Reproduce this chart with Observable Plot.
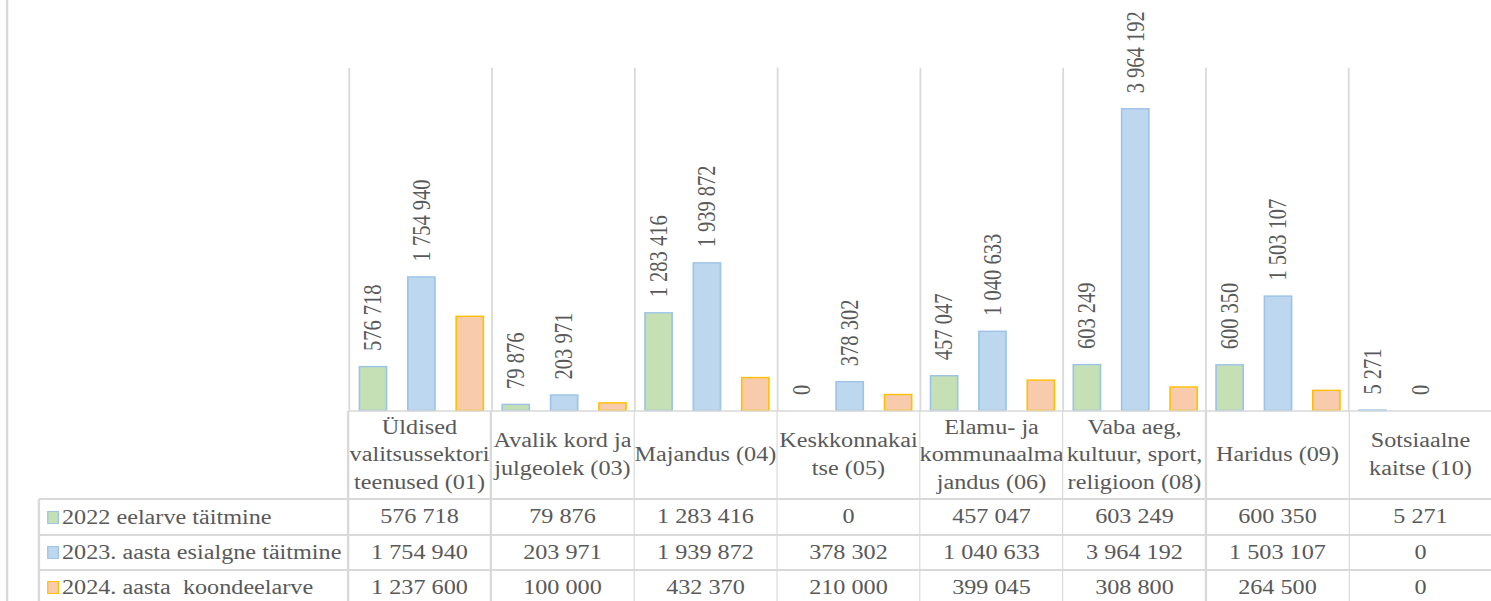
<!DOCTYPE html>
<html>
<head>
<meta charset="utf-8">
<script src="https://cdn.jsdelivr.net/npm/d3@7"></script>
<script src="https://cdn.jsdelivr.net/npm/@observablehq/plot@0.6"></script>
<style>
  html, body { margin: 0; padding: 0; background: #fff; width: 1491px; height: 601px; overflow: hidden; }
  #wrap { position: absolute; left: 0; top: 0; height: 601px; transform-origin: 0 0;
          font-family: "Liberation Serif", "Times New Roman", serif; color: #595959; }
  #wrap svg { position: absolute; left: 0; top: 0; overflow: visible; }
  .ln { position: absolute; background: #d9d9d9; }
  .cell { position: absolute; display: flex; align-items: center; justify-content: center;
          font-size: 20.5px; line-height: 27.5px; text-align: center; white-space: pre; }
  .lcell { position: absolute; display: flex; align-items: center; font-size: 20.5px; white-space: pre; }
  .key { position: absolute; box-sizing: border-box; border: 1.5px solid; }
</style>
</head>
<body>
<div id="wrap"></div>
<script>
// ---------- data ----------
const categories = [
  "Üldised valitsussektori teenused (01)",
  "Avalik kord ja julgeolek (03)",
  "Majandus (04)",
  "Keskkonnakaitse (05)",
  "Elamu- ja kommunaalmajandus (06)",
  "Vaba aeg, kultuur, sport, religioon (08)",
  "Haridus (09)",
  "Sotsiaalne kaitse (10)"
];
const categoryLabels = [
  "Üldised\nvalitsussektori\nteenused (01)",
  "Avalik kord ja\njulgeolek (03)",
  "Majandus (04)",
  "Keskkonnakai\ntse (05)",
  "Elamu- ja\nkommunaalma\njandus (06)",
  "Vaba aeg,\nkultuur, sport,\nreligioon (08)",
  "Haridus (09)",
  "Sotsiaalne\nkaitse (10)"
];
const series = ["2022 eelarve täitmine", "2023. aasta esialgne täitmine", "2024. aasta  koondeelarve"];
const values2022 = [576718, 79876, 1283416, 0, 457047, 603249, 600350, 5271];
const values2023 = [1754940, 203971, 1939872, 378302, 1040633, 3964192, 1503107, 0];
const values2024 = [1237600, 100000, 432370, 210000, 399045, 308800, 264500, 0];
const yMax = 4500000;

// ---------- styles ----------
const fills   = ["#C5E0B4", "#BDD7EE", "#F8CBAD"];
const strokes = ["#9DC3E6", "#9DC3E6", "#FFC000"];
const labelled = [true, true, false];

// ---------- layout (horizontal stretch like the original picture) ----------
const S = 1.18;
const u = v => v / S;
const plotLeft = u(348), catW = u(143), topY = 68, baseY = 410.5;
const W = plotLeft + catW * categories.length + 1;
const wrap = document.getElementById("wrap");
wrap.style.width = W + "px";
wrap.style.transform = `scaleX(${S})`;

const allValues = [values2022, values2023, values2024];
const data = categories.flatMap((c, i) => series.map((s, j) => ({category: c, series: s, j, value: allValues[j][i]})));
const fmt = d3.formatLocale({thousands: "\u00a0", grouping: [3], decimal: ","}).format(",d");

const H = 413;
const chart = Plot.plot({
  width: W,
  height: H,
  marginTop: topY,
  marginBottom: H - baseY,
  marginLeft: plotLeft,
  marginRight: W - plotLeft - catW * categories.length,
  style: {background: "transparent", fontFamily: "Liberation Serif"},
  fx: {domain: categories, padding: 0, axis: null},
  x: {domain: series, paddingInner: 0.42, paddingOuter: 0.17, axis: null},
  y: {domain: [0, yMax], axis: null},
  marks: [
    Plot.frame({anchor: "left", stroke: "#d9d9d9", strokeWidth: 1.5, dx: -0.5}),
    ...series.map((s, j) => Plot.barY(data.filter(d => d.j === j && d.value > 0), {
      fx: "category", x: "series", y: "value",
      fill: fills[j], stroke: strokes[j], strokeWidth: 1.4, insetLeft: 0.5, insetRight: 0.5
    })),
    Plot.text(data.filter(d => labelled[d.j]), {
      fx: "category", x: "series", y: "value", text: d => fmt(d.value),
      rotate: -90, textAnchor: "start", dy: -16,
      fill: "#595959", fontSize: 20.5, fontFamily: "Liberation Serif"
    }),
    Plot.ruleY([0], {stroke: "#d9d9d9", strokeWidth: 1.5})
  ]
});
wrap.appendChild(chart);

// ---------- data table below the chart ----------
function line(x, y, w, h) {
  const d = document.createElement("div");
  d.className = "ln";
  Object.assign(d.style, {left: x + "px", top: y + "px", width: w + "px", height: h + "px"});
  wrap.appendChild(d);
}
// outer chart-area border on the left
line(u(6), 0, u(2), 601);

const rowTops = [499, 535, 570];
const rowH = [36, 35, 35];
const legendLeft = u(39);

// header row (category labels)
categoryLabels.forEach((lab, i) => {
  const c = document.createElement("div");
  c.className = "cell";
  Object.assign(c.style, {left: (plotLeft + i * catW) + "px", top: baseY + "px", width: catW + "px", height: (rowTops[0] - baseY) + "px"});
  c.textContent = lab;
  wrap.appendChild(c);
});
// vertical separators through header + table
for (let i = 0; i <= categories.length; i++) line(plotLeft + i * catW - u(0.75), baseY, u(1.5), 601 - baseY);
// legend column border
line(legendLeft - u(0.75), rowTops[0], u(1.5), 601 - rowTops[0]);
// horizontal row lines
rowTops.forEach(t => line(legendLeft, t - 0.75, W - legendLeft, 1.5));

// rows
series.forEach((s, j) => {
  const key = document.createElement("div");
  key.className = "key";
  Object.assign(key.style, {left: u(47) + "px", top: (rowTops[j] + rowH[j] / 2 - 6.5) + "px", width: u(12) + "px", height: "13px",
    background: fills[j], borderColor: strokes[j], borderLeftWidth: u(1.5) + "px", borderRightWidth: u(1.5) + "px"});
  wrap.appendChild(key);
  const lc = document.createElement("div");
  lc.className = "lcell";
  Object.assign(lc.style, {left: u(62) + "px", top: rowTops[j] + "px", height: rowH[j] + "px"});
  lc.textContent = s;
  wrap.appendChild(lc);
  allValues[j].forEach((v, i) => {
    const c = document.createElement("div");
    c.className = "cell";
    Object.assign(c.style, {left: (plotLeft + i * catW) + "px", top: rowTops[j] + "px", width: catW + "px", height: rowH[j] + "px"});
    c.textContent = fmt(v);
    wrap.appendChild(c);
  });
});
</script>
</body>
</html>
